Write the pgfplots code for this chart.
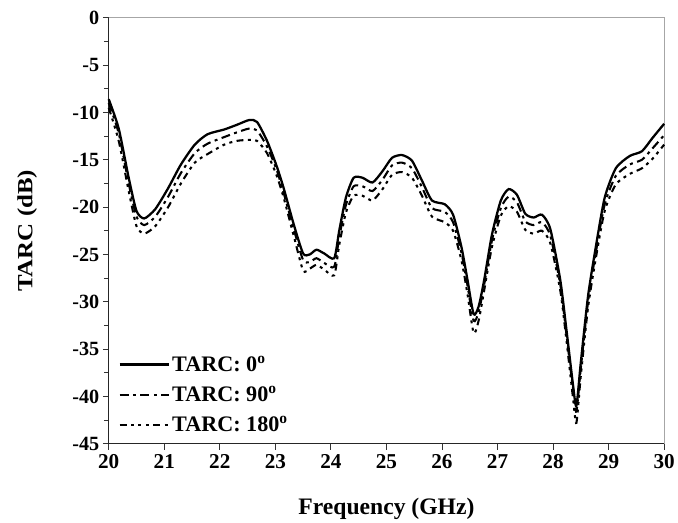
\documentclass[border=0pt]{standalone}
\usepackage{fontspec}
\setmainfont{Liberation Serif}
\usepackage{pgfplots}
\pgfplotsset{compat=1.18}
\begin{document}
\begin{tikzpicture}
\begin{axis}[
  scale only axis,
  width=562bp, height=431bp,
  xmin=20, xmax=30, ymin=-45, ymax=0,
  axis lines=left,
  axis line style={-, line width=1.5pt, draw=black!85},
  xtick={20,21,...,30},
  ytick={0,-5,...,-45},
  minor y tick num=1,
  tick align=outside,
  major tick length=6bp, minor tick length=5bp,
  tick style={line width=0.9pt, black!80},
  /pgf/number format/assume math mode=true,
  xticklabel style={font=\bfseries\fontsize{21.5}{21.5}\selectfont, yshift=-1bp},
  yticklabel style={font=\bfseries\fontsize{20.5}{20.5}\selectfont},
  xlabel={\bfseries Frequency (GHz)},
  ylabel={\scalebox{1.15}[1]{\bfseries TARC (dB)}},
  xlabel style={font=\fontsize{24}{24}\selectfont, at={(axis description cs:0.5,-0.153)}, anchor=center},
  ylabel style={font=\fontsize{22}{22}\selectfont, at={(axis description cs:-0.147,0.5)}, anchor=center},
  legend style={at={(0.012,0.016)}, anchor=south west, draw=none, fill=none,
    font=\bfseries\fontsize{22.5}{22.5}\selectfont, row sep=10bp,
    /tikz/every even column/.append style={column sep=11bp}},
  legend cell align=left,
  legend image code/.code={\draw[#1] (0bp,0bp) -- (50bp,0bp);},
  clip=false,
]
\draw[gray!70, line width=1.2pt] (rel axis cs:0,1) -- (rel axis cs:1,1) -- (rel axis cs:1,0);
\path ([xshift=-110bp,yshift=-80bp]rel axis cs:0,0) ([xshift=12bp,yshift=18bp]rel axis cs:1,1);

\addplot[black, line width=2.3pt, smooth, tension=0.4] coordinates {
(20.00,-8.6) (20.18,-11.7) (20.36,-16.9) (20.50,-20.4) (20.64,-21.2) (20.84,-20.2)
(21.07,-18.0) (21.30,-15.5) (21.55,-13.4) (21.78,-12.3) (22.08,-11.8) (22.31,-11.3)
(22.53,-10.8) (22.67,-11.0) (22.85,-13.0) (23.02,-15.6) (23.15,-18.0) (23.33,-21.8)
(23.50,-24.9) (23.62,-25.0) (23.74,-24.5) (23.88,-24.9) (24.06,-25.4) (24.15,-22.5)
(24.27,-19.0) (24.41,-16.9) (24.57,-16.9) (24.75,-17.4) (24.93,-16.2) (25.10,-14.8)
(25.28,-14.5) (25.46,-15.1) (25.64,-17.2) (25.82,-19.3) (26.05,-19.7) (26.20,-20.8)
(26.35,-24.2) (26.46,-27.7) (26.57,-31.3) (26.66,-30.5) (26.76,-27.7) (26.90,-22.9)
(27.06,-19.3) (27.20,-18.1) (27.35,-18.7) (27.50,-20.7) (27.65,-21.1) (27.80,-20.8)
(27.95,-22.3) (28.13,-27.7) (28.24,-32.9) (28.36,-38.8) (28.42,-41.0) (28.50,-36.4)
(28.63,-29.4) (28.77,-24.2) (28.93,-19.0) (29.13,-15.9) (29.38,-14.6) (29.60,-14.1)
(29.79,-12.7) (30.00,-11.2)
};
\addlegendentry{TARC: 0\textsuperscript{o}}

\addplot[black, line width=2.1pt, smooth, tension=0.4, dash pattern=on 9bp off 4.5bp on 3bp off 4.5bp] coordinates {
(20.00,-9.0) (20.18,-12.2) (20.36,-17.5) (20.50,-21.0) (20.64,-21.9) (20.84,-21.0)
(21.07,-18.9) (21.30,-16.4) (21.55,-14.3) (21.78,-13.3) (22.08,-12.6) (22.31,-12.1)
(22.53,-11.7) (22.67,-11.9) (22.85,-13.6) (23.02,-16.0) (23.15,-18.5) (23.33,-22.3)
(23.50,-25.6) (23.62,-25.8) (23.74,-25.4) (23.88,-25.9) (24.06,-26.3) (24.15,-23.2)
(24.27,-19.8) (24.41,-17.8) (24.57,-17.8) (24.75,-18.3) (24.93,-17.1) (25.10,-15.6)
(25.28,-15.3) (25.46,-15.9) (25.64,-17.9) (25.82,-20.1) (26.05,-20.5) (26.20,-21.6)
(26.35,-24.8) (26.46,-28.3) (26.57,-32.0) (26.66,-31.1) (26.76,-28.2) (26.90,-23.5)
(27.06,-20.1) (27.20,-18.9) (27.35,-19.5) (27.50,-21.5) (27.65,-21.9) (27.80,-21.6)
(27.95,-23.0) (28.13,-28.2) (28.24,-33.4) (28.36,-39.3) (28.42,-41.6) (28.50,-37.0)
(28.63,-30.0) (28.77,-24.8) (28.93,-19.7) (29.13,-16.7) (29.38,-15.5) (29.60,-15.0)
(29.79,-13.8) (30.00,-12.4)
};
\addlegendentry{TARC: 90\textsuperscript{o}}

\addplot[black, line width=2.1pt, smooth, tension=0.4, dash pattern=on 7bp off 4.5bp on 3bp off 4.5bp on 3bp off 4.5bp on 3bp off 4.5bp] coordinates {
(20.00,-9.5) (20.18,-13.0) (20.36,-18.3) (20.50,-22.0) (20.64,-22.8) (20.84,-22.0)
(21.07,-20.0) (21.30,-17.5) (21.55,-15.3) (21.78,-14.4) (22.08,-13.4) (22.31,-13.0)
(22.53,-12.9) (22.67,-13.0) (22.85,-14.3) (23.02,-16.6) (23.15,-19.0) (23.33,-23.0)
(23.50,-26.7) (23.62,-26.5) (23.74,-26.1) (23.88,-26.6) (24.06,-27.2) (24.15,-24.0)
(24.27,-20.6) (24.41,-18.8) (24.57,-18.8) (24.75,-19.3) (24.93,-18.1) (25.10,-16.6)
(25.28,-16.3) (25.46,-16.9) (25.64,-18.8) (25.82,-21.0) (26.05,-21.6) (26.20,-22.5)
(26.35,-25.6) (26.46,-29.2) (26.57,-33.3) (26.66,-32.0) (26.76,-28.8) (26.90,-24.2)
(27.06,-20.9) (27.20,-19.9) (27.35,-20.5) (27.50,-22.4) (27.65,-22.8) (27.80,-22.5)
(27.95,-23.8) (28.13,-28.8) (28.24,-34.0) (28.36,-40.2) (28.42,-42.8) (28.50,-37.8)
(28.63,-30.6) (28.77,-25.4) (28.93,-20.4) (29.13,-17.6) (29.38,-16.5) (29.60,-15.9)
(29.79,-14.9) (30.00,-13.4)
};
\addlegendentry{TARC: 180\textsuperscript{o}}
\end{axis}
\end{tikzpicture}
\end{document}
